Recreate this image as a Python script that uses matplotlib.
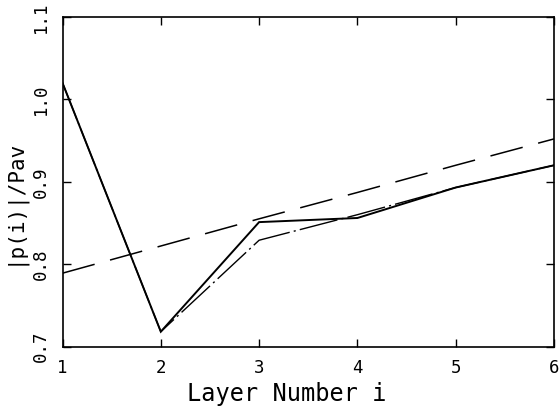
import matplotlib
matplotlib.use("Agg")
import matplotlib.pyplot as plt

layers = [1, 2, 3, 4, 5, 6]
solid_vals = [1.02, 0.718, 0.851, 0.856, 0.893, 0.920]
dashdot_vals = [1.02, 0.718, 0.829, 0.860, 0.893, 0.920]
dashed_vals = [0.789, 0.822, 0.855, 0.887, 0.920, 0.952]

x_ticks = [1, 2, 3, 4, 5, 6]
y_ticks = [0.7, 0.8, 0.9, 1.0, 1.1]
y_tick_labels = ["0.7", "0.8", "0.9", "1.0", "1.1"]
x_label = "Layer Number i"
y_label = "|p(i)|/Pav"

plt.rcParams['font.family'] = ['DejaVu Sans Mono']
plt.rcParams['lines.scale_dashes'] = False

fig = plt.figure(figsize=(5.6, 4.11), dpi=100)
ax = fig.add_axes([62.5/560, 1-346.5/411, (554-62.5)/560, (346.5-17)/411])

ax.plot(layers, solid_vals, color='black', lw=1.4, solid_joinstyle='miter')
ax.plot(layers, dashdot_vals, color='black', lw=1.0, dashes=(28, 3, 1.5, 3))
ax.plot(layers, dashed_vals, color='black', lw=1.1, dashes=(24, 11.5))

ax.set_xlim(1, 6)
ax.set_ylim(0.7, 1.1)
ax.set_xticks(x_ticks)
ax.set_xticklabels([str(v) for v in x_ticks])
ax.set_yticks(y_ticks)
ax.set_yticklabels(y_tick_labels, rotation=90, va='center')

ax.tick_params(direction='in', length=6, width=1.0, top=True, right=True,
               labelsize=12.5)
ax.tick_params(axis='x', pad=9)
ax.tick_params(axis='y', pad=9)
for s in ax.spines.values():
    s.set_linewidth(1.2)

fig.text(287/560, 1-394/411, x_label, ha='center', va='center', fontsize=17)
fig.text(14/560, 1-202/411, y_label, ha='center', va='center', fontsize=15,
         rotation=90)

fig.savefig("out.png", dpi=100)
